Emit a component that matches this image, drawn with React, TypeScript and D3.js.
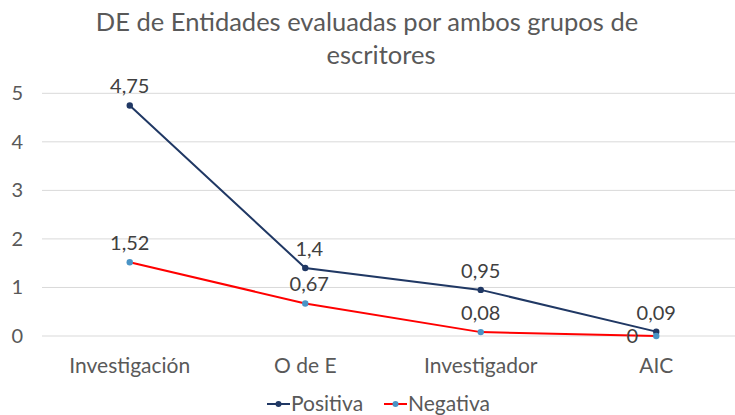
import React from 'react'
import * as d3 from 'd3'

const categories = ['Investigación', 'O de E', 'Investigador', 'AIC']
const positiva = [4.75, 1.4, 0.95, 0.09]
const negativa = [1.52, 0.67, 0.08, 0]
const yTicks = [0, 1, 2, 3, 4, 5]

const W = 735
const H = 415
const FONT = 'Lato, "Open Sans", sans-serif'

const fmt = (v: number) => String(v).replace('.', ',')

const App = () => {
  // plot area (chart is slightly wider than the window, right side is cut)
  const left = 42
  const right = 744
  const top = 93.3
  const bottom = 336

  const x = d3.scaleBand().domain(categories).range([left, right])
  const cx = (c: string) => (x(c) as number) + x.bandwidth() / 2
  const y = d3.scaleLinear().domain([0, 5]).range([bottom, top])

  const line = d3
    .line<number>()
    .x((d, i) => cx(categories[i]))
    .y(d => y(d))

  const series = [
    { name: 'Positiva', data: positiva, stroke: '#203864', marker: '#203864' },
    { name: 'Negativa', data: negativa, stroke: '#ff0000', marker: '#4a94c6' },
  ]

  return (
    <svg width={W} height={H} style={{ display: 'block', position: 'absolute', left: 0, top: 0 }}>
      <rect width={W} height={H} fill="#fff" />
      <g fontFamily={FONT} fill="#595959" textAnchor="middle" fontSize={25.5}>
        <text x={367} y={31}>DE de Entidades evaluadas por ambos grupos de</text>
        <text x={381} y={64}>escritores</text>
      </g>

      {yTicks.map(t => (
        <g key={t}>
          <line x1={left} x2={right} y1={y(t)} y2={y(t)} stroke="#d9d9d9" strokeWidth={1} />
          <text x={23} y={y(t) + 7} textAnchor="end" fontFamily={FONT} fontSize={20} fill="#595959">
            {t}
          </text>
        </g>
      ))}

      {categories.map(c => (
        <text key={c} x={cx(c)} y={373} textAnchor="middle" fontFamily={FONT} fontSize={21} fill="#595959">
          {c}
        </text>
      ))}

      {series.map(s => (
        <g key={s.name}>
          <path d={line(s.data) as string} fill="none" stroke={s.stroke} strokeWidth={2} />
          {s.data.map((v, i) => (
            <circle key={i} cx={cx(categories[i])} cy={y(v)} r={3.2} fill={s.marker} />
          ))}
        </g>
      ))}

      {/* data labels */}
      <g fontFamily={FONT} fontSize={20} fill="#404040" textAnchor="middle">
        {positiva.map((v, i) => (
          <text key={'p' + i} x={cx(categories[i]) + (i === 1 ? 4 : 0)} y={y(v) - 12}>
            {fmt(v)}
          </text>
        ))}
        {negativa.map((v, i) =>
          i === 3 ? (
            <text key={'n' + i} x={cx(categories[i]) - 24} y={y(v) + 7}>
              {fmt(v)}
            </text>
          ) : (
            <text key={'n' + i} x={cx(categories[i]) + (i === 1 ? 4 : 0)} y={y(v) - 12}>
              {fmt(v)}
            </text>
          )
        )}
      </g>

      {/* legend */}
      <g fontFamily={FONT} fontSize={21} fill="#595959">
        {series.map((s, i) => {
          const lx = i === 0 ? 267 : 384
          return (
            <g key={s.name}>
              <line x1={lx} x2={lx + 23} y1={404} y2={404} stroke={s.stroke} strokeWidth={2} />
              <circle cx={lx + 11.5} cy={404} r={3} fill={s.marker} />
              <text x={lx + 24} y={411}>{s.name}</text>
            </g>
          )
        })}
      </g>
    </svg>
  )
}

export default App
